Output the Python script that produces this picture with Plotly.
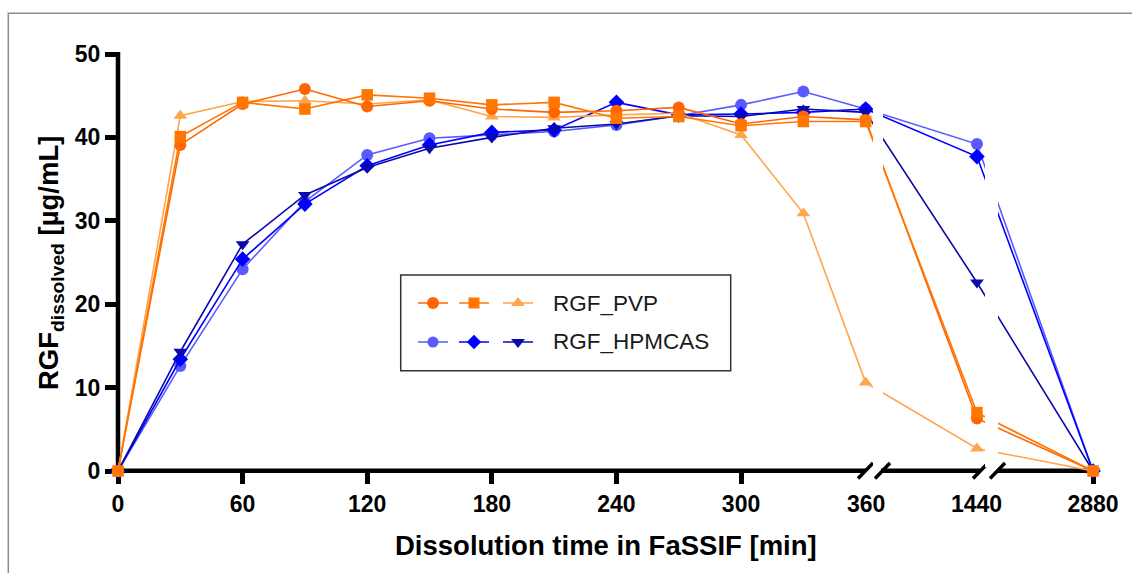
import plotly.graph_objects as go

# ---------------- data ----------------
times = [0, 30, 60, 90, 120, 150, 180, 210, 240, 270, 300, 330, 360, 1440, 2880]

pvp_circle = [0, 39.1, 44.0, 45.8, 43.7, 44.4, 43.4, 43.0, 43.2, 43.6, 41.6, 42.5, 42.1, 6.3, 0]
pvp_square = [0, 40.1, 44.2, 43.4, 45.1, 44.7, 43.9, 44.2, 42.3, 42.5, 41.4, 41.9, 41.9, 7.0, 0]
pvp_triangle = [0, 42.6, 44.3, 44.4, 44.0, 44.5, 42.5, 42.4, 42.7, 42.9, 40.3, 30.9, 10.6, 2.7, 0]

hpmcas_circle = [0, 12.6, 24.2, 32.3, 37.9, 39.9, 40.3, 40.7, 41.5, 42.6, 43.9, 45.5, 43.4, 39.2, 0]
hpmcas_diamond = [0, 13.4, 25.4, 32.0, 36.6, 39.1, 40.6, 40.9, 44.2, 42.7, 42.8, 43.0, 43.4, 37.7, 0]
hpmcas_tridown = [0, 14.3, 27.2, 33.1, 36.4, 38.7, 40.0, 41.1, 41.6, 42.6, 42.5, 43.4, 43.0, 22.6, 0]

tick_times = [0, 60, 120, 180, 240, 300, 2880]
break_tick_times = [360, 1440]
y_ticks = [0, 10, 20, 30, 40, 50]

# ---------------- broken-axis scale ----------------
# first segment (0-360 min) is linear; later time points sit on short segments
SEGMENT_POS = {1440: 413.6, 2880: 469.5}
X_MAX = 471.4


def to_axis(t):
    return t if t <= 360 else SEGMENT_POS[t]


# ---------------- geometry helpers (pixels -> paper) ----------------
W, H = 1132, 573
L, R, T, B = 118, 35, 54, 102
PW, PH = W - L - R, H - T - B


def px(xp):
    return (xp - L) / PW


def py(yp):
    return (H - B - yp) / PH


FONT = "Liberation Sans, Arial, Helvetica, sans-serif"

series = [
    ("HPMCAS circle", hpmcas_circle, "circle", 12, "#5a5aff"),
    ("HPMCAS diamond", hpmcas_diamond, "diamond", 12, "#0000ff"),
    ("HPMCAS tri", hpmcas_tridown, "triangle-down", 12, "#0a0aa8"),
    ("PVP triangle", pvp_triangle, "triangle-up", 12, "#ffa54c"),
    ("PVP circle", pvp_circle, "circle", 12, "#ff6600"),
    ("PVP square", pvp_square, "square", 11.5, "#ff7700"),
]

fig = go.Figure()
xs = [to_axis(t) for t in times]
for name, vals, sym, size, col in series:
    fig.add_trace(go.Scatter(
        x=xs, y=vals, mode="lines+markers", name=name,
        line=dict(color=col, width=1.6),
        marker=dict(symbol=sym, size=size, color=col, opacity=1, line=dict(width=0)),
        cliponaxis=False, showlegend=False, hoverinfo="skip",
    ))

# ---------------- custom legend (overlay pixel axes) ----------------
legend_rows = [
    ("RGF_PVP", [("circle", 12, "#ff6600"), ("square", 11, "#ff7700"), ("triangle-up", 12, "#ffa54c")], 303),
    ("RGF_HPMCAS", [("circle", 11, "#5a5aff"), ("diamond", 11, "#0000ff"), ("triangle-down", 12, "#0a0aa8")], 342),
]
legend_cx = [433, 474, 518]
for label, items, cy in legend_rows:
    for (sym, size, col), cx in zip(items, legend_cx):
        fig.add_trace(go.Scatter(
            x=[cx - 15, cx, cx + 15], y=[cy, cy, cy], xaxis="x2", yaxis="y2",
            mode="lines+markers", line=dict(color=col, width=1.5),
            marker=dict(symbol=sym, size=[0, size, 0], color=col, opacity=1, line=dict(width=0)),
            showlegend=False, hoverinfo="skip", cliponaxis=False,
        ))

shapes = []
# outer frame
shapes.append(dict(type="rect", xref="paper", yref="paper", x0=px(8.3), y0=py(13.3), x1=px(1300), y1=py(700),
                   line=dict(color="#8c8c8c", width=1.5), layer="below"))
# legend box
shapes.append(dict(type="rect", xref="paper", yref="paper", x0=px(400.7), y0=py(275), x1=px(730.7), y1=py(370.7),
                   line=dict(color="#333333", width=1.5), layer="above"))
# gaps at the axis breaks (hide connecting lines)
for a, b in [(873, 883), (985, 998)]:
    shapes.append(dict(type="rect", xref="paper", yref="paper", x0=px(a), x1=px(b), y0=py(467), y1=py(40),
                       fillcolor="white", line=dict(width=0), layer="above"))
# y axis line
shapes.append(dict(type="line", xref="paper", yref="paper", x0=px(118), x1=px(118), y0=py(473), y1=py(52),
                   line=dict(color="black", width=4.5), layer="below"))
# x axis segments
for a, b in [(115, 866), (881, 980), (997, 1097)]:
    shapes.append(dict(type="line", xref="paper", yref="paper", x0=px(a), x1=px(b), y0=py(470.8), y1=py(470.8),
                       line=dict(color="black", width=4.5), layer="below"))
# break slashes
for a in [858, 875, 973, 990]:
    shapes.append(dict(type="line", xref="paper", yref="paper", x0=px(a), x1=px(a + 15), y0=py(478.5), y1=py(463),
                       line=dict(color="black", width=3.5), layer="below"))

tick_font = dict(family=FONT, size=23, color="black", weight="bold")

annotations = []
# labels at the break positions (no tick marks there)
for t in break_tick_times:
    annotations.append(dict(x=to_axis(t), y=py(504), xref="x", yref="paper", text=str(t), showarrow=False,
                            xanchor="center", yanchor="middle", font=tick_font))
for label, items, cy in legend_rows:
    annotations.append(dict(x=px(551), y=py(cy), xref="paper", yref="paper", text=label, showarrow=False,
                            xanchor="left", yanchor="middle",
                            font=dict(family=FONT, size=22.5, color="#1a1a1a")))
# axis titles
annotations.append(dict(x=px(606), y=py(545), xref="paper", yref="paper",
                        text="Dissolution time in FaSSIF [min]", showarrow=False,
                        xanchor="center", yanchor="middle",
                        font=dict(family=FONT, size=27.5, color="black", weight="bold")))
annotations.append(dict(x=px(50), y=py(263), xref="paper", yref="paper",
                        text="RGF<sub>dissolved</sub> [µg/mL]", showarrow=False, textangle=-90,
                        xanchor="center", yanchor="middle",
                        font=dict(family=FONT, size=27.5, color="black", weight="bold")))

fig.update_layout(
    width=W, height=H,
    margin=dict(l=L, r=R, t=T, b=B, pad=0),
    paper_bgcolor="white", plot_bgcolor="white",
    showlegend=False,
    xaxis=dict(range=[0, X_MAX], tickvals=[to_axis(t) for t in tick_times],
               ticktext=[str(t) for t in tick_times], ticks="outside", ticklen=12, tickwidth=4.5,
               tickcolor="black", showline=False, showgrid=False, zeroline=False,
               tickfont=tick_font, layer="below traces"),
    yaxis=dict(range=[0, 50], tickvals=y_ticks, ticks="outside", ticklen=12, tickwidth=4.5,
               tickcolor="black", showline=False, showgrid=False, zeroline=False,
               tickfont=tick_font, layer="below traces"),
    xaxis2=dict(range=[L, W - R], overlaying="x", anchor="y2", visible=False),
    yaxis2=dict(range=[H - B, T], overlaying="y", anchor="x2", visible=False),
    shapes=shapes,
    annotations=annotations,
)

fig.write_html("out.html")
